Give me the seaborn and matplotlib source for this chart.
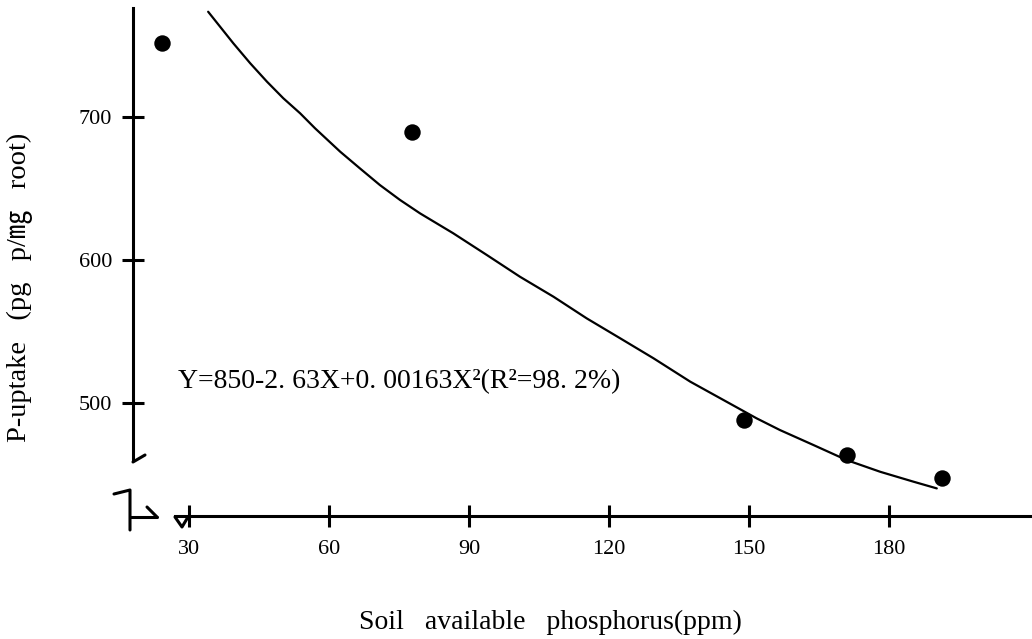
import matplotlib
matplotlib.use("Agg")
import pandas as pd
import matplotlib.pyplot as plt
import seaborn as sns

soil_p = [24.2, 77.7, 148.8, 170.9, 191.3]
p_uptake = [751.5, 689.7, 488, 463.6, 447.3]

# fitted curve as drawn in the figure (traced)
curve_x = [34.1, 39.5, 43.1, 46.7, 50.2, 53.8, 57.0, 62.4, 66.6, 70.9,
           75.2, 79.5, 86.6, 93.8, 100.9, 108.1, 115.2, 122.4, 129.5,
           137.4, 144.5, 151.6, 156.6, 163.8, 170.9, 178.1, 185.2, 190.2]
curve_y = [773.6, 751.5, 737.6, 724.7, 713.1, 702.6, 692.1, 675.7, 664.1, 652.4,
           642.0, 632.6, 618.7, 603.5, 588.3, 574.3, 559.2, 545.2, 531.3,
           514.9, 502.1, 489.3, 481.1, 470.6, 460.1, 451.9, 445.0, 440.3]

x_ticks = [30, 60, 90, 120, 150, 180]
y_ticks = [500, 600, 700]

equation = "Y=850-2. 63X+0. 00163X\u00b2(R\u00b2=98. 2%)"
x_title = "Soil   available   phosphorus(ppm)"
y_title = "P-uptake   (pg   p/\u338e   root)"

sns.set_style("ticks")
plt.rcParams['font.family'] = ['Liberation Serif', 'Noto Sans CJK KR', 'DejaVu Sans']
plt.rcParams['text.color'] = 'black'
plt.rcParams['axes.labelcolor'] = 'black'

W, H = 1032, 639
fig = plt.figure(figsize=(W / 100, H / 100), dpi=100)
# axes: left edge = y axis (px 133), bottom edge = x axis (px 516)
ax = fig.add_axes([133 / W, (H - 516) / H, (W - 133) / W, 516 / H])

points = pd.DataFrame({'x': soil_p, 'y': p_uptake})
fit = pd.DataFrame({'x': curve_x, 'y': curve_y})

sns.lineplot(data=fit, x='x', y='y', sort=False, estimator=None,
             color='black', linewidth=1.6, ax=ax)
sns.scatterplot(data=points, x='x', y='y', color='black', s=140,
                edgecolor='black', linewidth=0, ax=ax, zorder=3)

ax.set_xlim(18.0, 210.6)
ax.set_ylim(421, 781.8)

ax.spines['top'].set_visible(False)
ax.spines['right'].set_visible(False)
for side in ['left', 'bottom']:
    ax.spines[side].set_linewidth(2.2)
    ax.spines[side].set_color('black')
ax.spines['left'].set_bounds(460, 776)
ax.spines['bottom'].set_bounds(27, 210.6)

ax.set_xticks(x_ticks)
ax.set_yticks(y_ticks)
ax.tick_params(axis='both', direction='inout', length=16, width=2.2,
               color='black', labelsize=16, labelcolor='black')
ax.tick_params(axis='x', pad=9)
ax.tick_params(axis='y', pad=7)

ax.set_xlabel(x_title, fontsize=20)
ax.set_ylabel(y_title, fontsize=20.5)
ax.xaxis.set_label_coords(0.4638, -0.207)
ax.xaxis.label.set_va('center')
ax.yaxis.set_label_coords(-0.1257, 0.4438)
ax.yaxis.label.set_va('center')

ax.text(27.6, 515, equation, ha='left', va='center', fontsize=20)

# axis-break marks, drawn in figure pixels
def brk(xs, ys):
    fig.add_artist(plt.Line2D([v / W for v in xs], [(H - v) / H for v in ys],
                              color='black', linewidth=2.2,
                              transform=fig.transFigure))

brk([133, 145], [462, 455])
brk([114, 130, 130], [494, 490, 530])
brk([130, 157], [517, 517])
brk([147, 157], [507, 517])
brk([175, 182, 188], [517, 527, 517])

fig.savefig('out.png', dpi=100)
